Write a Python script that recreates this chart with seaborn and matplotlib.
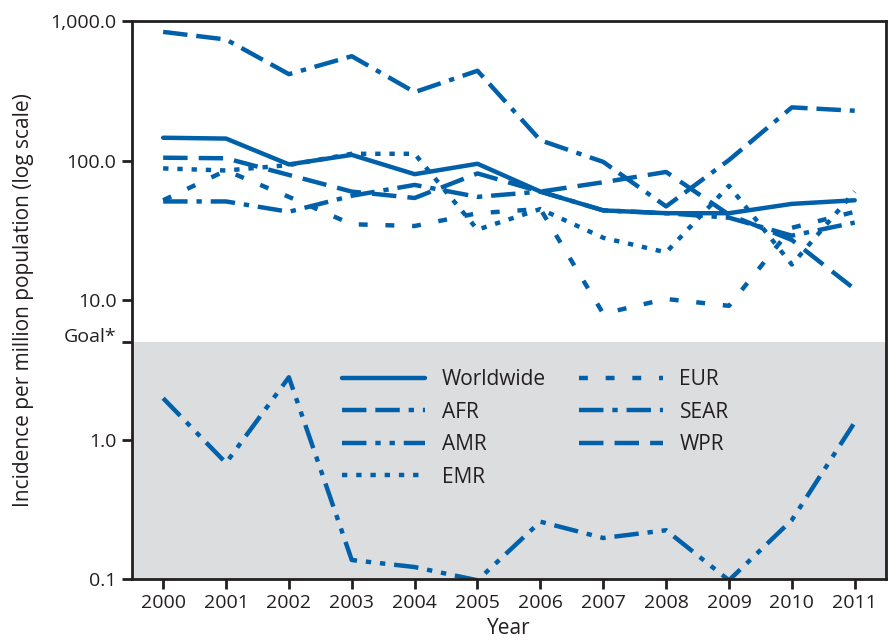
import matplotlib
matplotlib.use("Agg")
import matplotlib.pyplot as plt
import pandas as pd
import seaborn as sns

# Incidence des cas par million d'habitants (lecture de la figure)
years = list(range(2000, 2012))
worldwide = [146, 144, 94, 110, 80, 95, 60, 44, 42, 42, 49, 52]
afr = [838, 739, 417, 561, 310, 441, 140, 98, 47, 101, 241, 228]
amr = [1.98, 0.68, 2.8, 0.137, 0.122, 0.098, 0.258, 0.197, 0.224, 0.098, 0.265, 1.33]
emr = [88, 85, 93, 112, 112, 32, 45, 28, 22, 66, 18, 60]
eur = [52, 85, 55, 35, 34, 42, 45, 8.0, 10.2, 9.1, 33, 43]
sear = [51, 51, 43, 56, 67, 55, 60, 44, 42, 39, 29, 36]
wpr = [105, 104, 79, 60, 54, 81, 60, 70, 83, 41, 27, 12]
goal = 5

regions = ["Worldwide", "AFR", "AMR", "EMR", "EUR", "SEAR", "WPR"]
series = [worldwide, afr, amr, emr, eur, sear, wpr]

ytick_values = [0.1, 1, goal, 10, 100, 1000]
ytick_labels = ["0.1", "1.0", "Goal*", "10.0", "100.0", "1,000.0"]

# Format long pour seaborn
df = pd.DataFrame({
    "Year": years * len(regions),
    "Incidence": [v for s in series for v in s],
    "Region": [r for r in regions for _ in years],
})

line_styles = {
    "Worldwide": "",
    "AFR": (5.5, 2, 5.5, 2, 1.2, 2),
    "AMR": (5.5, 2, 1.2, 2, 1.2, 2),
    "EMR": (1.2, 2),
    "EUR": (2, 4),
    "SEAR": (5.5, 2, 1.2, 2),
    "WPR": (5.5, 2.5),
}

sns.set_theme(style="ticks")
plt.rcParams["font.family"] = ["Open Sans", "DejaVu Sans"]

blue = "#0060a9"
dark = "#231f20"
fig = plt.figure(figsize=(8.96, 6.42), dpi=100)
ax = fig.add_axes([0.147, 0.098, 0.842, 0.869])

ax.axhspan(0.1, goal, color="#dcdddf", zorder=0, lw=0)

sns.lineplot(data=df, x="Year", y="Incidence", style="Region",
             dashes=line_styles, color=blue, linewidth=3.2, ax=ax)

ax.set_yscale("log")
ax.set_ylim(0.1, 1000)
ax.set_xlim(1999.5, 2011.5)
ax.set_xticks(years)
ax.set_xticklabels([str(y) for y in years], fontsize=14)
ax.set_yticks(ytick_values)
ax.set_yticklabels(ytick_labels, fontsize=14)
ax.yaxis.set_minor_locator(matplotlib.ticker.NullLocator())
for lbl in ax.get_yticklabels():
    if lbl.get_text() == "Goal*":
        lbl.set_verticalalignment("baseline")
ax.tick_params(axis="both", direction="out", length=7, width=2, color=dark,
               labelcolor=dark, pad=4)

for side in ["left", "bottom", "top", "right"]:
    ax.spines[side].set_visible(True)
    ax.spines[side].set_linewidth(2)
    ax.spines[side].set_color(dark)

ax.set_xlabel("Year", fontsize=15, color=dark, labelpad=4)
ax.set_ylabel("Incidence per million population (log scale)", fontsize=15,
              color=dark, labelpad=12)

handles, labels = ax.get_legend_handles_labels()
ax.legend(handles, labels, ncol=2, frameon=False, fontsize=15,
          loc="center", bbox_to_anchor=(0.535, 0.27), handlelength=4,
          columnspacing=1.6, labelspacing=0.55, labelcolor=dark)

plt.savefig("out.png", dpi=100)
